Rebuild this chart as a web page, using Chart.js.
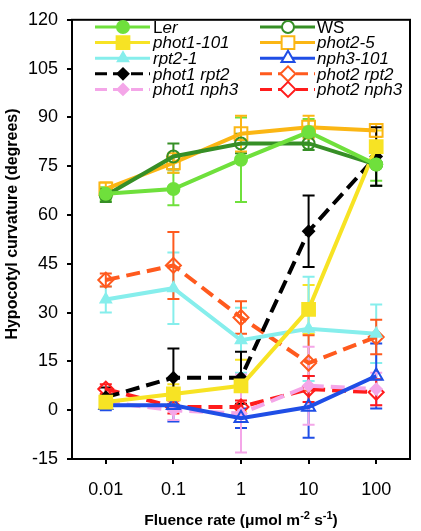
<!DOCTYPE html>
<html lang="en">
<head>
  <meta charset="UTF-8">
  <title>Hypocotyl curvature</title>
  <script src="https://cdn.jsdelivr.net/npm/chart.js"></script>
  <style>
    body { margin: 0; background: #fff; }
    #wrap { width: 421px; height: 531px; position: relative; }
  </style>
</head>
<body>
  <div id="wrap"><canvas id="chart"></canvas></div>
  <script>
    // fluence rate categories (log steps)
    const categories = ['0.01', '0.1', '1', '10', '100'];

    // means and error bars (degrees)
    const ler = [66.5, 68, 77, 85.5, 75.5];
    const lerErr = [2, 5, 13, 4, 5];
    const ws = [66, 78, 82, 82, 75.5];
    const wsErr = [2, 4, 3, 2, 6.5];
    const phot1 = [2.5, 5, 7.5, 31, 81];
    const phot1Err = [2, 3, 8, 7.5, 5];
    const phot2 = [68, 76, 85, 87, 86];
    const phot2Err = [2, 3, 5.5, 3.5, 2];
    const rpt2 = [34, 37.5, 21.5, 25, 23.5];
    const rpt2Err = [4, 11, 10, 16, 9];
    const nph3 = [1.5, 1.5, -2.5, 1, 10.5];
    const nph3Err = [1.5, 5, 3, 9.5, 10];
    const phot1rpt2 = [4, 10, 10, 55, 78];
    const phot1rpt2Err = [3, 9, 8, 11, 9];
    const phot2rpt2 = [40, 44.5, 28.5, 14.5, 22.5];
    const phot2rpt2Err = [2, 10.3, 5, 8.5, 5.3];
    const phot1nph3 = [2.5, 0, -1, 7.5, 6.5];
    const phot1nph3Err = [2, 3, 12, 12, 5];
    const phot2nph3 = [6.5, 1, 1, 6.5, 5.5];
    const phot2nph3Err = [1.5, 2, 2, 4, 4];

    const yMin = -15, yMax = 120, yStep = 15;

    const FONT = "'Liberation Sans', Arial, sans-serif";
    const NONE = 'rgba(0,0,0,0)';

    // legend parts: [text, italic]
    const series = [
      { name: [['L', false], ['er', true]], data: ler, err: lerErr, color: '#6fe03c', fill: true, style: 'circle', r: 6, dash: [] },
      { name: [['WS', false]], data: ws, err: wsErr, color: '#368f26', fill: false, style: 'circle', r: 6, dash: [] },
      { name: [['phot1-101', true]], data: phot1, err: phot1Err, color: '#f7e324', fill: true, style: 'rect', r: 9, dash: [] },
      { name: [['phot2-5', true]], data: phot2, err: phot2Err, color: '#fbb614', fill: false, style: 'rect', r: 9, dash: [] },
      { name: [['rpt2-1', true]], data: rpt2, err: rpt2Err, color: '#86eeec', fill: true, style: 'triangle', r: 6, dash: [] },
      { name: [['nph3-101', true]], data: nph3, err: nph3Err, color: '#1f4ee6', fill: false, style: 'triangle', r: 7.5, dash: [] },
      { name: [['phot1 rpt2', true]], data: phot1rpt2, err: phot1rpt2Err, color: '#000000', fill: true, style: 'rectRot', r: 5.5, dash: [14, 7] },
      { name: [['phot2 rpt2', true]], data: phot2rpt2, err: phot2rpt2Err, color: '#ff5a1e', fill: false, style: 'rectRot', r: 7.5, dash: [14, 7] },
      { name: [['phot1 nph3', true]], data: phot1nph3, err: phot1nph3Err, color: '#f4a6e8', fill: true, style: 'rectRot', r: 5.5, dash: [14, 7] },
      { name: [['phot2 nph3', true]], data: phot2nph3, err: phot2nph3Err, color: '#ff1c1c', fill: false, style: 'rectRot', r: 7.5, dash: [14, 7] }
    ];

    const errorBars = {
      id: 'errorBars',
      beforeDatasetsDraw(chart) {
        const ctx = chart.ctx, y = chart.scales.y;
        ctx.save();
        series.forEach((s, i) => {
          const meta = chart.getDatasetMeta(i);
          ctx.strokeStyle = s.color;
          ctx.lineWidth = 2;
          meta.data.forEach((pt, j) => {
            const top = y.getPixelForValue(s.data[j] + s.err[j]);
            const bot = y.getPixelForValue(s.data[j] - s.err[j]);
            ctx.beginPath();
            ctx.moveTo(pt.x, top); ctx.lineTo(pt.x, bot);
            ctx.moveTo(pt.x - 6, top); ctx.lineTo(pt.x + 6, top);
            ctx.moveTo(pt.x - 6, bot); ctx.lineTo(pt.x + 6, bot);
            ctx.stroke();
          });
        });
        ctx.restore();
      }
    };

    const frame = {
      id: 'frame',
      afterDraw(chart) {
        const ctx = chart.ctx, a = chart.chartArea;
        ctx.save();
        ctx.strokeStyle = '#000';
        ctx.lineWidth = 2;
        ctx.strokeRect(a.left, a.top, a.right - a.left, a.bottom - a.top);

        // legend, two columns inside the plot
        const cols = [{ x0: 95, x1: 150, mx: 123, tx: 153 }, { x0: 260, x1: 315, mx: 288, tx: 317 }];
        series.forEach((s, i) => {
          const c = cols[i % 2];
          const yy = 27 + Math.floor(i / 2) * 15.6;
          ctx.strokeStyle = s.color;
          ctx.lineWidth = 3;
          ctx.setLineDash(s.dash.length ? [12, 6] : []);
          ctx.beginPath(); ctx.moveTo(c.x0, yy); ctx.lineTo(c.x1, yy); ctx.stroke();
          ctx.setLineDash([]);
          ctx.fillStyle = s.fill ? s.color : '#fff';
          ctx.lineWidth = 2;
          Chart.helpers.drawPoint(ctx, { pointStyle: s.style, radius: s.r, rotation: 0, borderWidth: 2 }, c.mx, yy);
          let tx = c.tx;
          ctx.fillStyle = '#000';
          ctx.textBaseline = 'middle';
          s.name.forEach(([t, it]) => {
            ctx.font = (it ? 'italic ' : '') + '17px ' + FONT;
            ctx.fillText(t, tx, yy + 1);
            tx += ctx.measureText(t).width;
          });
        });

        // axis titles
        ctx.fillStyle = '#000';
        ctx.font = 'bold 16px ' + FONT;
        ctx.textAlign = 'center';
        ctx.textBaseline = 'middle';
        ctx.save();
        ctx.translate(13, 224);
        ctx.rotate(-Math.PI / 2);
        ctx.fillText('Hypocotyl curvature (degrees)', 0, 0);
        ctx.restore();

        const parts = [['Fluence rate (', 0], ['\u03bc', 0], ['mol m', 0], ['-2', 1], [' s', 0], ['-1', 1], [')', 0]];
        const fontFor = p => p[1] ? 'bold 11px ' + FONT : 'bold 15.5px ' + FONT;
        let w = 0;
        parts.forEach(p => { ctx.font = fontFor(p); w += ctx.measureText(p[0]).width; });
        let x = (a.left + a.right) / 2 - w / 2;
        const base = 525;
        ctx.textAlign = 'left';
        ctx.textBaseline = 'alphabetic';
        parts.forEach(p => {
          ctx.font = fontFor(p);
          ctx.fillText(p[0], x, p[1] ? base - 6 : base);
          x += ctx.measureText(p[0]).width;
        });
        ctx.restore();
      }
    };

    new Chart(document.getElementById('chart'), {
      type: 'line',
      data: {
        labels: categories,
        datasets: series.map(s => ({
          label: s.name.map(p => p[0]).join(''),
          data: s.data,
          borderColor: s.color,
          backgroundColor: s.fill ? s.color : NONE,
          borderWidth: 4,
          borderDash: s.dash,
          tension: 0,
          pointStyle: s.style,
          pointRadius: s.r,
          pointBorderWidth: 2,
          pointBorderColor: s.color,
          pointBackgroundColor: s.fill ? s.color : NONE
        }))
      },
      options: {
        responsive: true,
        maintainAspectRatio: false,
        animation: false,
        layout: { padding: { top: 13, right: 3, left: 0, bottom: 0 } },
        plugins: { legend: { display: false }, tooltip: { enabled: false } },
        scales: {
          x: {
            type: 'category',
            offset: true,
            afterFit: s => { s.height = 72; },
            grid: { drawOnChartArea: false, drawTicks: true, tickLength: 5, color: '#000', lineWidth: 2 },
            border: { display: true, color: '#000', width: 2 },
            ticks: { color: '#000', padding: 15, font: { family: FONT, size: 18 } }
          },
          y: {
            min: yMin, max: yMax,
            afterFit: s => { s.width = 72; },
            grid: { drawOnChartArea: false, drawTicks: true, tickLength: 5, color: '#000', lineWidth: 2 },
            border: { display: true, color: '#000', width: 2 },
            ticks: { stepSize: yStep, color: '#000', padding: 9, font: { family: FONT, size: 18 } }
          }
        }
      },
      plugins: [errorBars, frame]
    });
  </script>
</body>
</html>
